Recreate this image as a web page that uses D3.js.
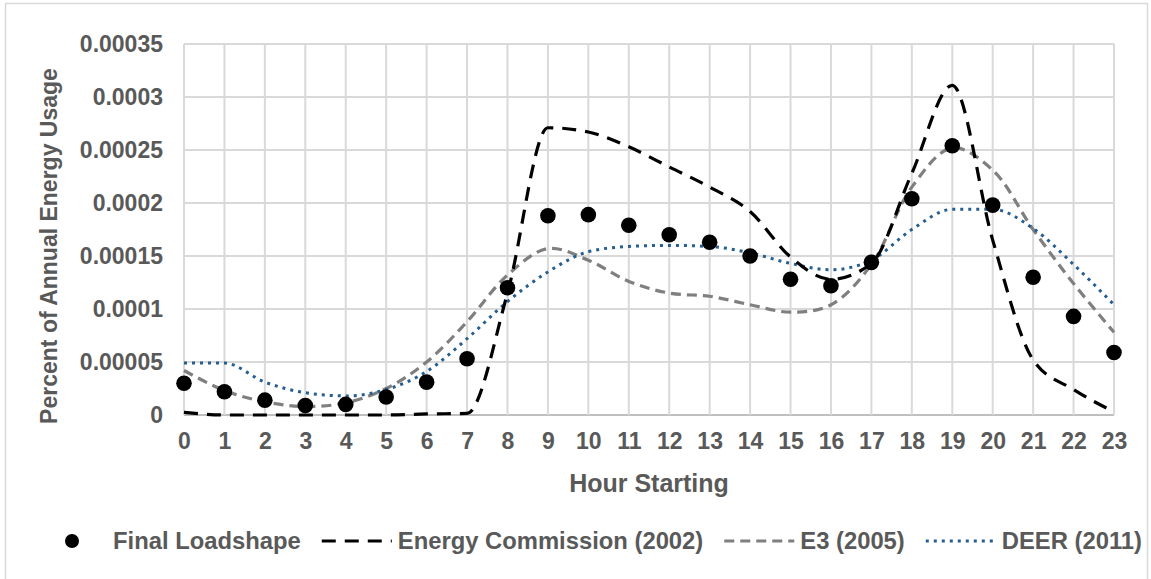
<!DOCTYPE html>
<html>
<head>
<meta charset="utf-8">
<script src="https://cdn.jsdelivr.net/npm/d3@7/dist/d3.min.js"></script>
<style>
  html, body { margin: 0; padding: 0; background: #ffffff; }
  svg { display: block; }
  text { font-family: "Liberation Sans", Arial, sans-serif; font-weight: bold; }
</style>
</head>
<body>
<svg id="chart" width="1151" height="579"></svg>
<script>
// ---- data ----
const hours = d3.range(0, 24);
const hourLabels = hours.map(String);
const yTickValues = [0, 0.00005, 0.0001, 0.00015, 0.0002, 0.00025, 0.0003, 0.00035];
const yTickLabels = ["0", "0.00005", "0.0001", "0.00015", "0.0002", "0.00025", "0.0003", "0.00035"];

const finalLoadshape = [3.0, 2.2, 1.4, 0.9, 1.0, 1.7, 3.1, 5.3, 12.0, 18.8, 18.9, 17.9,
                        17.0, 16.3, 15.0, 12.8, 12.2, 14.4, 20.4, 25.4, 19.8, 13.0, 9.3, 5.9].map(v => v * 1e-5);
const energyCommission = [0.25, 0.0, 0.0, 0.0, 0.0, 0.0, 0.1, 0.15, 11.5, 27.1, 26.7, 25.3,
                          23.4, 21.5, 19.2, 14.9, 12.8, 14.3, 22.8, 31.1, 16.5, 5.2, 2.4, 0.3].map(v => v * 1e-5);
const e3 = [4.2, 2.3, 1.25, 0.8, 1.15, 2.5, 5.0, 8.8, 13.2, 15.7, 14.6, 12.6,
            11.5, 11.2, 10.4, 9.7, 10.4, 14.2, 21.5, 25.2, 23.1, 17.5, 12.4, 7.8].map(v => v * 1e-5);
const deer = [4.9, 4.9, 3.1, 2.1, 1.8, 2.4, 4.1, 7.2, 10.7, 13.5, 15.4, 15.9,
              16.0, 15.9, 15.3, 14.3, 13.7, 14.6, 17.5, 19.4, 19.4, 17.6, 14.2, 10.4].map(v => v * 1e-5);

const seriesNames = ["Final Loadshape", "Energy Commission (2002)", "E3 (2005)", "DEER (2011)"];
const xTitle = "Hour Starting";
const yTitle = "Percent of Annual Energy Usage";

// ---- layout ----
const svg = d3.select("#chart");
const pLeft = 184, pRight = 1114, pTop = 44, pBottom = 415;
const x = d3.scaleLinear().domain([0, 23]).range([pLeft, pRight]);
const y = d3.scaleLinear().domain([0, 0.00035]).range([pBottom, pTop]);
const labelColor = "#595959";
const gridColor = "#d9d9d9";

// outer chart border
svg.append("rect").attr("x", 5.5).attr("y", 3.5).attr("width", 1142).attr("height", 620)
  .attr("fill", "none").attr("stroke", "#d9d9d9").attr("stroke-width", 1.5);

// gridlines
const grid = svg.append("g");
grid.selectAll("line.h").data(yTickValues).join("line")
  .attr("x1", pLeft).attr("x2", pRight)
  .attr("y1", d => y(d)).attr("y2", d => y(d))
  .attr("stroke", (d) => d === 0 ? "#bfbfbf" : gridColor).attr("stroke-width", 2);
grid.selectAll("line.v").data(hours).join("line")
  .attr("x1", d => x(d)).attr("x2", d => x(d))
  .attr("y1", pTop).attr("y2", pBottom)
  .attr("stroke", gridColor).attr("stroke-width", 2);

// axes (labels only)
const yAxis = d3.axisLeft(y).tickValues(yTickValues)
  .tickFormat((d, i) => yTickLabels[i]).tickSize(0).tickPadding(21);
const gy = svg.append("g").attr("transform", `translate(${pLeft},0)`).call(yAxis);
gy.select(".domain").remove();
gy.selectAll("text").attr("fill", labelColor).style("font-size", "23px")
  .style("font-family", "'Liberation Sans', Arial, sans-serif").style("font-weight", "bold");

const xAxis = d3.axisBottom(x).tickValues(hours)
  .tickFormat((d, i) => hourLabels[i]).tickSize(0).tickPadding(18);
const gx = svg.append("g").attr("transform", `translate(0,${pBottom})`).call(xAxis);
gx.select(".domain").remove();
gx.selectAll("text").attr("fill", labelColor).style("font-size", "23px")
  .style("font-family", "'Liberation Sans', Arial, sans-serif").style("font-weight", "bold");

// axis titles
svg.append("text").attr("x", (pLeft + pRight) / 2).attr("y", 492)
  .attr("text-anchor", "middle").attr("fill", labelColor).style("font-size", "25px")
  .text(xTitle);
svg.append("text").attr("transform", "translate(57,246) rotate(-90)")
  .attr("text-anchor", "middle").attr("fill", labelColor).style("font-size", "23px")
  .text(yTitle);

// lines
const styles = [
  null,
  { color: "#000000", width: 3.2, dash: "14,9", curve: d3.curveMonotoneX },
  { color: "#7f7f7f", width: 3.2, dash: "10,6", curve: d3.curveCatmullRom.alpha(0.5) },
  { color: "#255e91", width: 3, dash: "3,5", curve: d3.curveMonotoneX }
];
const lineData = [null, energyCommission, e3, deer];
[2, 3, 1].forEach(k => {
  const gen = d3.line().x((d, i) => x(hours[i])).y(d => y(d)).curve(styles[k].curve);
  svg.append("path").datum(lineData[k]).attr("d", gen)
    .attr("fill", "none").attr("stroke", styles[k].color)
    .attr("stroke-width", styles[k].width).attr("stroke-dasharray", styles[k].dash);
});

// points
svg.append("g").selectAll("circle").data(finalLoadshape).join("circle")
  .attr("cx", (d, i) => x(hours[i])).attr("cy", d => y(d)).attr("r", 7.8).attr("fill", "#000");

// legend
const leg = svg.append("g");
const ly = 541;
let cx = 37;
seriesNames.forEach((name, k) => {
  const symW = 70;
  if (k === 0) {
    leg.append("circle").attr("cx", cx + symW / 2).attr("cy", ly).attr("r", 7).attr("fill", "#000");
  } else {
    leg.append("line").attr("x1", cx).attr("x2", cx + symW).attr("y1", ly).attr("y2", ly)
      .attr("stroke", styles[k].color).attr("stroke-width", styles[k].width)
      .attr("stroke-dasharray", styles[k].dash);
  }
  const t = leg.append("text").attr("x", cx + symW + 6).attr("y", ly).attr("dy", "0.35em")
    .attr("fill", labelColor).style("font-size", "23.8px").text(name);
  cx = cx + symW + 6 + t.node().getComputedTextLength() + 21;
});
</script>
</body>
</html>
